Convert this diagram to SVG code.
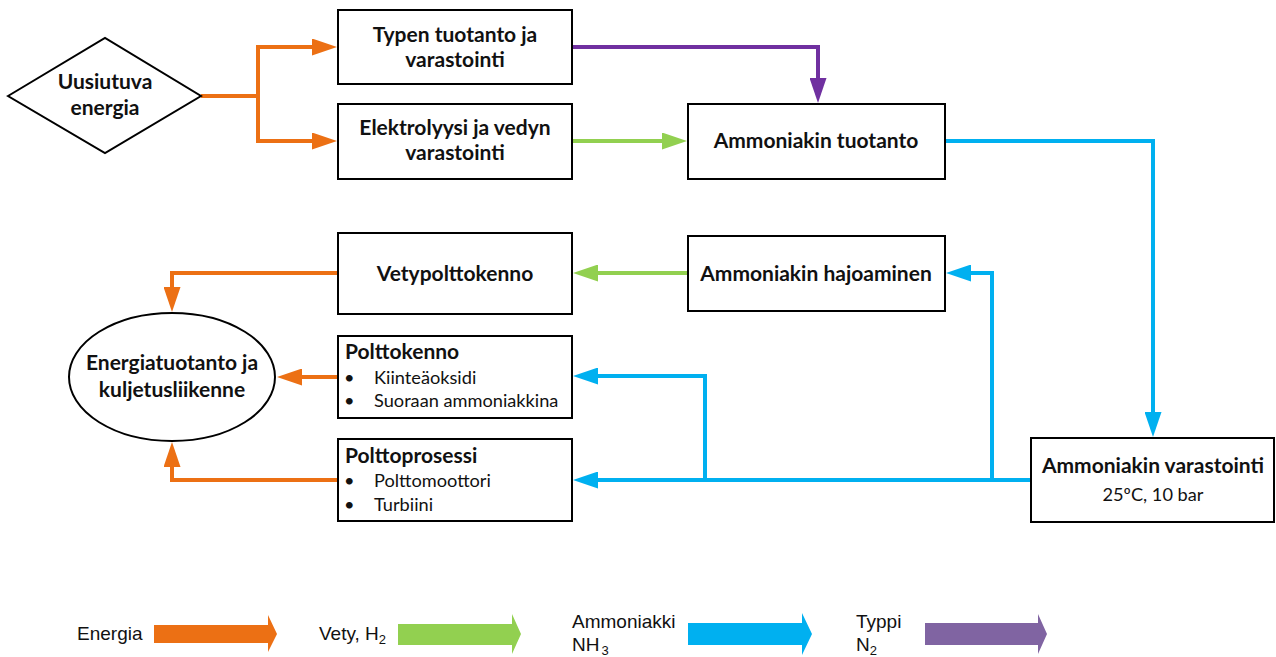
<svg xmlns="http://www.w3.org/2000/svg" width="1276" height="657" viewBox="0 0 1276 657">
<style>
  .box{fill:#fff;stroke:#000;stroke-width:2}
  .t{font-family:Lato,"Open Sans",sans-serif;font-weight:700;font-size:21px;fill:#111;text-anchor:middle}
  .tl{font-family:Lato,"Open Sans",sans-serif;font-weight:700;font-size:21px;fill:#111}
  .r{font-family:Lato,"Open Sans",sans-serif;font-weight:400;font-size:18.2px;fill:#111}
  .lg{font-family:"Liberation Sans",Arial,sans-serif;font-size:19px;fill:#111}
  .c{fill:none;stroke-width:4;stroke-linejoin:miter}
  .or{stroke:#EC7014}.gr{stroke:#92D050}.bl{stroke:#00B0F0}.pu{stroke:#7030A0}
</style>
<defs>
  <marker id="mo" viewBox="0 0 25 17" refX="0" refY="8.5" markerWidth="25" markerHeight="17" markerUnits="userSpaceOnUse" orient="auto"><path d="M0,0 L25,8.5 L0,17 z" fill="#EC7014"/></marker>
  <marker id="mg" viewBox="0 0 25 17" refX="0" refY="8.5" markerWidth="25" markerHeight="17" markerUnits="userSpaceOnUse" orient="auto"><path d="M0,0 L25,8.5 L0,17 z" fill="#92D050"/></marker>
  <marker id="mb" viewBox="0 0 25 17" refX="0" refY="8.5" markerWidth="25" markerHeight="17" markerUnits="userSpaceOnUse" orient="auto"><path d="M0,0 L25,8.5 L0,17 z" fill="#00B0F0"/></marker>
  <marker id="mp" viewBox="0 0 25 17" refX="0" refY="8.5" markerWidth="25" markerHeight="17" markerUnits="userSpaceOnUse" orient="auto"><path d="M0,0 L25,8.5 L0,17 z" fill="#7030A0"/></marker>
</defs>
<rect width="1276" height="657" fill="#fff"/>

<g id="connectors">
  <path class="c or" d="M201,96 H258 V47 H312" marker-end="url(#mo)"/>
  <path class="c or" d="M258,94 V141 H312" marker-end="url(#mo)"/>
  <path class="c pu" d="M572,47 H818 V78" marker-end="url(#mp)"/>
  <path class="c gr" d="M572,141 H662" marker-end="url(#mg)"/>
  <path class="c bl" d="M945,141 H1153 V412" marker-end="url(#mb)"/>
  <path class="c bl" d="M1031,480 H598" marker-end="url(#mb)"/>
  <path class="c bl" d="M705,482 V376 H598" marker-end="url(#mb)"/>
  <path class="c bl" d="M992,482 V273 H971" marker-end="url(#mb)"/>
  <path class="c gr" d="M688,273 H598" marker-end="url(#mg)"/>
  <path class="c or" d="M338,273 H172 V287" marker-end="url(#mo)"/>
  <path class="c or" d="M338,377 H302" marker-end="url(#mo)"/>
  <path class="c or" d="M338,480 H172 V467" marker-end="url(#mo)"/>
</g>

<g id="uusiutuva">
  <polygon class="box" points="8,96 105,38 201,96 105,153"/>
  <text class="t" x="105" y="89">Uusiutuva</text>
  <text class="t" x="105" y="115">energia</text>
</g>
<g id="typen">
  <rect class="box" x="338" y="10" width="234" height="74"/>
  <text class="t" x="455" y="42">Typen tuotanto ja</text>
  <text class="t" x="455" y="67">varastointi</text>
</g>
<g id="elektrolyysi">
  <rect class="box" x="338" y="104" width="234" height="75"/>
  <text class="t" x="455" y="135">Elektrolyysi ja vedyn</text>
  <text class="t" x="455" y="160">varastointi</text>
</g>
<g id="ammoniakin-tuotanto">
  <rect class="box" x="688" y="104" width="257" height="75"/>
  <text class="t" x="816" y="148">Ammoniakin tuotanto</text>
</g>
<g id="vetypolttokenno">
  <rect class="box" x="338" y="233" width="234" height="81"/>
  <text class="t" x="455" y="281">Vetypolttokenno</text>
</g>
<g id="ammoniakin-hajoaminen">
  <rect class="box" x="688" y="236" width="257" height="75"/>
  <text class="t" x="816" y="281">Ammoniakin hajoaminen</text>
</g>
<g id="energiatuotanto">
  <ellipse class="box" cx="172" cy="377" rx="103" ry="64"/>
  <text class="t" x="172" y="370">Energiatuotanto ja</text>
  <text class="t" x="172" y="397">kuljetusliikenne</text>
</g>
<g id="polttokenno">
  <rect class="box" x="338" y="336" width="234" height="82"/>
  <text class="tl" x="345" y="359">Polttokenno</text>
  <text class="r" x="344" y="384">•</text>
  <text class="r" x="374" y="384">Kiinteäoksidi</text>
  <text class="r" x="344" y="407">•</text>
  <text class="r" x="374" y="407">Suoraan ammoniakkina</text>
</g>
<g id="polttoprosessi">
  <rect class="box" x="338" y="439" width="234" height="82"/>
  <text class="tl" x="345" y="463">Polttoprosessi</text>
  <text class="r" x="344" y="487">•</text>
  <text class="r" x="374" y="487">Polttomoottori</text>
  <text class="r" x="344" y="511">•</text>
  <text class="r" x="374" y="511">Turbiini</text>
</g>
<g id="ammoniakin-varastointi">
  <rect class="box" x="1031" y="438" width="243" height="84"/>
  <text class="t" x="1153" y="473">Ammoniakin varastointi</text>
  <text class="r" x="1153" y="501" text-anchor="middle">25ºC, 10 bar</text>
</g>

<g id="legend">
  <text class="lg" x="77" y="640">Energia</text>
  <polygon fill="#EC7014" points="154,625 268,625 268,615 277,634 268,652 268,643 154,643"/>
  <text class="lg" x="319" y="640">Vety, H<tspan font-size="13" dy="4">2</tspan></text>
  <polygon fill="#92D050" points="398,624 512,624 512,614 521,634 512,654 512,645 398,645"/>
  <text class="lg" x="572" y="628">Ammoniakki</text>
  <text class="lg" x="572" y="651">NH<tspan font-size="13" dx="2" dy="4">3</tspan></text>
  <polygon fill="#00B0F0" points="688,623 802,623 802,613 812,634 802,655 802,645 688,645"/>
  <text class="lg" x="856" y="628">Typpi</text>
  <text class="lg" x="856" y="651">N<tspan font-size="13" dy="4">2</tspan></text>
  <polygon fill="#8064A2" points="925,623 1038,623 1038,614 1047,634 1038,654 1038,645 925,645"/>
</g>
</svg>
